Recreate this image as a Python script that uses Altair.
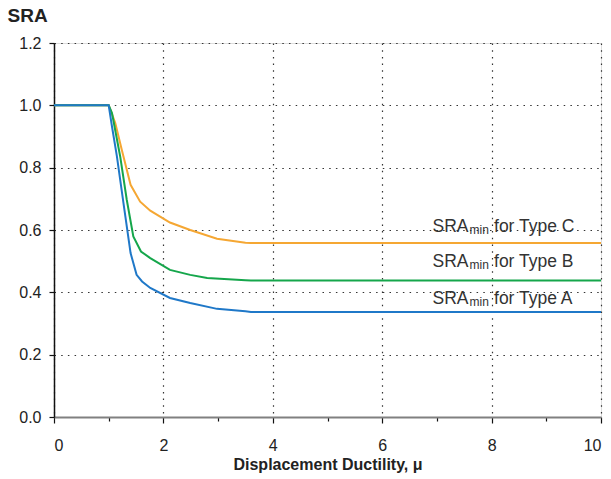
import altair as alt
import pandas as pd

# Type C (orange)
c_x = [0, 1.0, 1.12, 1.24, 1.40, 1.575, 1.76, 2.12, 2.49, 2.98, 3.5, 3.6, 10]
c_y = [1.0, 1.0, 0.943, 0.857, 0.745, 0.691, 0.662, 0.624, 0.600, 0.572, 0.559, 0.558, 0.558]
# Type B (green)
b_x = [0, 1.0, 1.06, 1.21, 1.33, 1.45, 1.59, 1.76, 2.12, 2.49, 2.80, 3.5, 3.6, 10]
b_y = [1.0, 1.0, 0.975, 0.836, 0.697, 0.579, 0.531, 0.510, 0.472, 0.456, 0.446, 0.439, 0.438, 0.438]
# Type A (blue)
a_x = [0, 1.0, 1.06, 1.15, 1.27, 1.40, 1.51, 1.61, 1.76, 2.12, 2.49, 2.98, 3.5, 3.6, 10]
a_y = [1.0, 1.0, 0.932, 0.836, 0.686, 0.526, 0.456, 0.435, 0.414, 0.382, 0.366, 0.347, 0.339, 0.337, 0.337]

types = ["Type C", "Type B", "Type A"]
colors = ["#F5A733", "#15A64B", "#1F78C8"]
label_x = [6.92, 6.92, 6.92]
label_y = [0.595, 0.482, 0.363]

rows = []
for t, xs, ys in zip(types, [c_x, b_x, a_x], [c_y, b_y, a_y]):
    for i, (x, y) in enumerate(zip(xs, ys)):
        rows.append({"type": t, "x": x, "y": y, "order": i})
df = pd.DataFrame(rows)

labels = pd.DataFrame({"type": types, "x": label_x, "y": label_y,
                       "rest": ["for " + t for t in types]})

xscale = alt.Scale(domain=[0, 10], nice=False, zero=False)
yscale = alt.Scale(domain=[0, 1.2], nice=False, zero=False)

FONT = "Liberation Sans"

xaxis = alt.Axis(
    values=list(range(0, 11)),
    labelExpr="datum.value % 2 == 0 ? datum.label : ''",
    format="d",
    grid=True,
    gridColor="#333",
    gridDash=[1.5, 5.2],
    gridWidth=1.2,
    gridOpacity={"condition": {"test": "datum.value % 2 == 1", "value": 0}, "value": 1},
    tickSize={"condition": {"test": "datum.value % 2 == 1", "value": 4}, "value": 6},
    tickColor="#111",
    tickWidth=1.2,
    domainColor="#808080",
    domainWidth=2,
    labelFont=FONT,
    labelFontSize=16,
    labelColor="#222",
    labelPadding=14,
    title="Displacement Ductility, μ",
    titleFont=FONT,
    titleFontSize=16,
    titleFontWeight="bold",
    titleColor="#222",
    titleBaseline="alphabetic",
    titleY=52,
)

yaxis = alt.Axis(
    values=[round(v * 0.1, 1) for v in range(0, 13)],
    labelExpr="round(datum.value*10) % 2 == 0 ? format(datum.value, '.1f') : ''",
    grid=True,
    gridColor="#333",
    gridDash=[1.5, 5.2],
    gridWidth=1.2,
    gridOpacity={"condition": {"test": "round(datum.value*10) % 2 == 1", "value": 0}, "value": 1},
    tickSize=5,
    tickColor="#111",
    tickWidth=1.2,
    domainColor="#111",
    domainWidth=1.5,
    labelFont=FONT,
    labelFontSize=16,
    labelColor="#222",
    labelPadding=8,
    title="SRA",
    titleFont=FONT,
    titleFontSize=19,
    titleFontWeight="bold",
    titleColor="#222",
    titleAngle=0,
    titleAlign="left",
    titleBaseline="alphabetic",
    titleX=-47,
    titleY=-22,
)

color = alt.Color("type:N", scale=alt.Scale(domain=types, range=colors), legend=None)

lines = alt.Chart(df).mark_line(strokeWidth=2).encode(
    x=alt.X("x:Q", scale=xscale, axis=xaxis),
    y=alt.Y("y:Q", scale=yscale, axis=yaxis),
    color=color,
    order="order:Q",
)

base_t = alt.Chart(labels).encode(
    x=alt.X("x:Q", scale=xscale),
    y=alt.Y("y:Q", scale=yscale),
)
t1 = base_t.mark_text(align="left", baseline="alphabetic", font=FONT, fontSize=17.5, color="#333").encode(text=alt.value("SRA"))
t2 = base_t.mark_text(align="left", baseline="alphabetic", font=FONT, fontSize=12, color="#333", dx=37, dy=2).encode(text=alt.value("min"))
t3 = base_t.mark_text(align="left", baseline="alphabetic", font=FONT, fontSize=17.5, color="#333", dx=61.5).encode(text="rest:N")

chart = alt.layer(lines, t1, t2, t3).properties(
    width=547,
    height=374,
    autosize=alt.AutoSizeParams(type="none"),
    padding={"left": 54, "top": 43, "right": 10, "bottom": 62},
).configure_view(stroke=None).configure(background="white")

chart.save("out.html", embed_options={"renderer": "svg", "actions": False})
